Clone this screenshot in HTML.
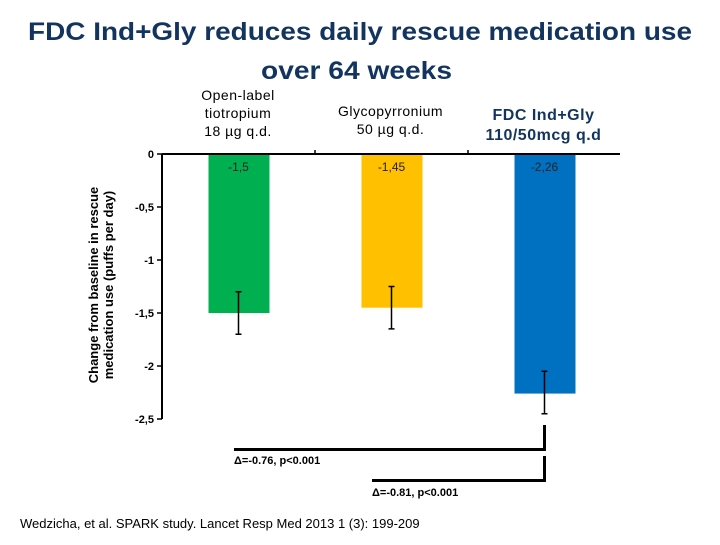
<!DOCTYPE html>
<html><head><meta charset="utf-8"><style>
body{margin:0;background:#fff;}
svg{font-family:"Liberation Sans",Arial,sans-serif;}
</style></head><body>
<svg width="720" height="540" viewBox="0 0 720 540">
<text x="28" y="40" textLength="664" lengthAdjust="spacingAndGlyphs" font-size="25" font-weight="bold" fill="#12345e">FDC Ind+Gly reduces daily rescue medication use</text>
<text x="261" y="79" textLength="191" lengthAdjust="spacingAndGlyphs" font-size="25" font-weight="bold" fill="#12345e">over 64 weeks</text>
<g id="cats"></g>
<g transform="translate(98,285) rotate(-90)">
<text x="0" y="0" text-anchor="middle" font-size="13" font-weight="bold" fill="#000">Change from baseline in rescue</text>
<text x="0" y="15" text-anchor="middle" font-size="13" font-weight="bold" fill="#000">medication use (puffs per day)</text>
</g>
<g id="plot"></g>
<g>
<rect x="543" y="425" width="3" height="26" fill="#000"/>
<rect x="234" y="448" width="312" height="3" fill="#000"/>
<text x="234" y="464" font-size="11" font-weight="bold">Δ=-0.76, p&lt;0.001</text>
<rect x="543" y="456" width="3" height="26" fill="#000"/>
<rect x="372" y="479" width="174" height="3" fill="#000"/>
<text x="372" y="496" font-size="11" font-weight="bold">Δ=-0.81, p&lt;0.001</text>
</g>
<text x="20" y="528" font-size="13" fill="#000">Wedzicha, et al. SPARK study. Lancet Resp Med 2013 1 (3): 199-209</text>
</svg>
<script>
const categories=["tiotropium","glycopyrronium","fdc"];
const values=[-1.5,-1.45,-2.26];
const errLow=[-1.7,-1.65,-2.45];
const errHigh=[-1.3,-1.25,-2.05];
const valueLabels=["-1,5","-1,45","-2,26"];
const yTicks=[0,-0.5,-1,-1.5,-2,-2.5];
const yTickLabels=["0","-0,5","-1","-1,5","-2","-2,5"];
const colors=["#00b050","#ffc000","#0070c0"];
const NS="http://www.w3.org/2000/svg";
const plot=document.getElementById('plot');
const x0=162,catW=153,y0=154,k=106;
const y=v=>y0-v*k;
const cx=i=>x0+catW*(i+0.5);
function mk(t,a,p){const e=document.createElementNS(NS,t);for(const n in a)e.setAttribute(n,a[n]);(p||plot).appendChild(e);return e;}
values.forEach((v,i)=>{
 const b=mk('rect',{x:cx(i)-30,y:y(0),width:61,height:y(v)-y(0),fill:colors[i]});
 
 
 const e=mk('path',{d:`M${cx(i)} ${y(errHigh[i])}V${y(errLow[i])}M${cx(i)-3} ${y(errHigh[i])}h6M${cx(i)-3} ${y(errLow[i])}h6`,stroke:'#000','stroke-width':1.5,fill:'none'});
 
 
 const t=mk('text',{x:cx(i),y:y(0)+17,'text-anchor':'middle','font-size':12,fill:'#222'});
 t.textContent=valueLabels[i];
 
 
});
const ax=mk('path',{d:`M${x0} ${y(0)}V${y(-2.5)}M${x0} ${y(0)}H620`,stroke:'#000','stroke-width':2,fill:'none'});


[1,2].forEach(j=>mk('line',{x1:x0+catW*j,x2:x0+catW*j,y1:y(0)-4,y2:y(0),stroke:'#000','stroke-width':1.5}));
yTicks.forEach((v,i)=>{
 mk('line',{x1:x0-5,x2:x0,y1:y(v),y2:y(v),stroke:'#000','stroke-width':1.5});
 const t=mk('text',{x:x0-8,y:y(v)+4,'text-anchor':'end','font-size':11,'font-weight':'bold'});
 t.textContent=yTickLabels[i];
 
 
});
const cats=document.getElementById('cats');
const catLines=[["Open-label","tiotropium","18 µg q.d."],["Glycopyrronium","50 µg q.d."],["FDC Ind+Gly","110/50mcg q.d"]];
const catY=[[100,118,136],[116,134],[120,140]];
catLines.forEach((ls,i)=>ls.forEach((s,j)=>{
 const t=mk('text',{x:i==0?238:cx(i)-1,y:catY[i][j],'text-anchor':'middle','font-size':i==2?16:14,'font-weight':i==2?'bold':'normal','letter-spacing':'0.5',fill:i==2?'#12345e':'#000'},cats);
 t.textContent=s;
 
 
}));
</script>
</body></html>
